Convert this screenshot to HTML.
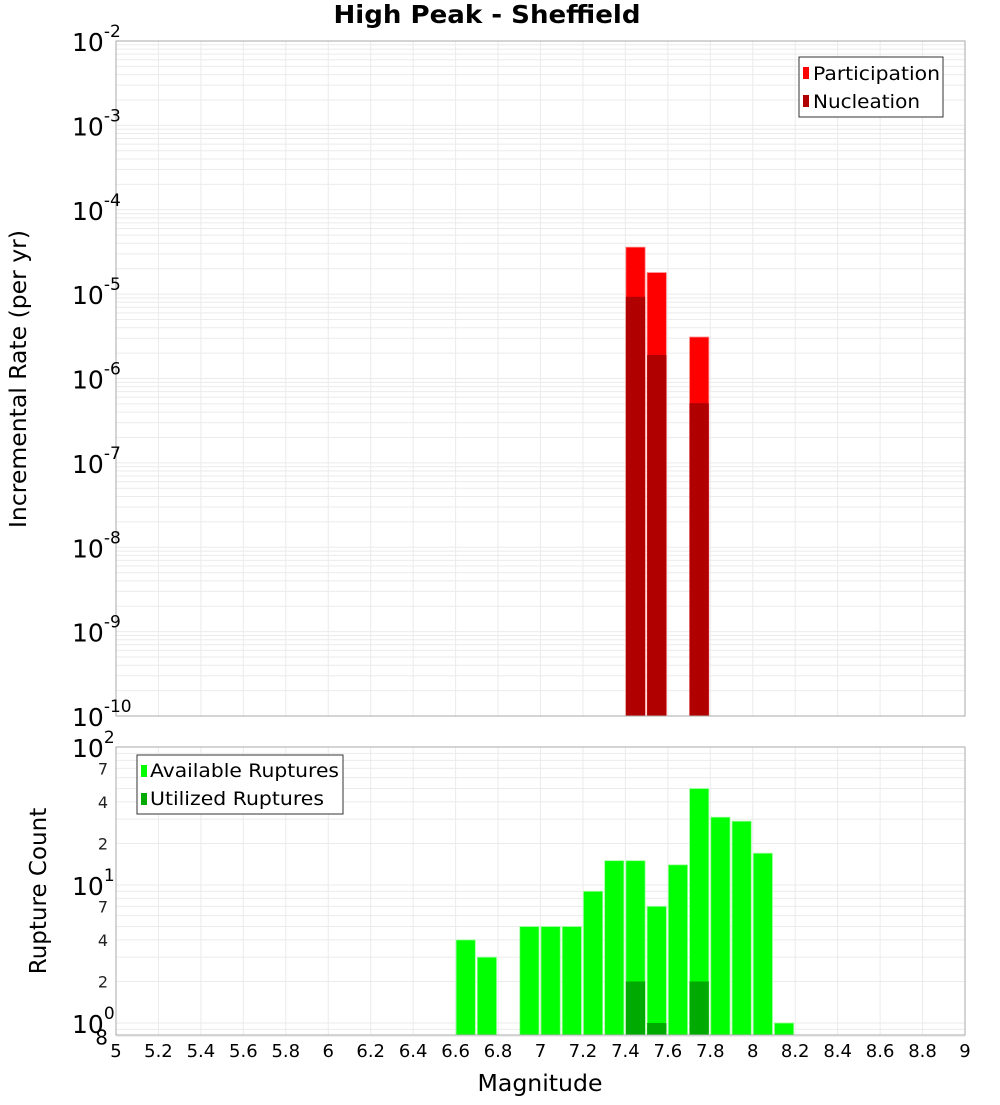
<!DOCTYPE html>
<html><head><meta charset="utf-8"><style>
body{margin:0;background:#fff;font-family:"Liberation Sans","DejaVu Sans",sans-serif}
svg text{font-family:"DejaVu Sans","Liberation Sans",sans-serif}
</style></head><body>
<svg id="chart" width="1000" height="1100" xmlns="http://www.w3.org/2000/svg">
<text x="487" y="23" text-anchor="middle" font-size="25" font-weight="bold" textLength="307" lengthAdjust="spacingAndGlyphs">High Peak - Sheffield</text>
<text transform="translate(26,379) rotate(-90)" text-anchor="middle" font-size="23" textLength="298" lengthAdjust="spacingAndGlyphs">Incremental Rate (per yr)</text>
<text transform="translate(46,891) rotate(-90)" text-anchor="middle" font-size="23">Rupture Count</text>
<text x="540" y="1091" text-anchor="middle" font-size="23" textLength="125" lengthAdjust="spacingAndGlyphs">Magnitude</text>
<g id="topPlot"></g>
<g id="botPlot"></g>
<g>
<rect x="799" y="57" width="144" height="60" fill="#fff" stroke="#333"/>
<rect x="803" y="67" width="6" height="12" fill="#ff0000"/>
<text x="813" y="80" font-size="19" textLength="127" lengthAdjust="spacingAndGlyphs">Participation</text>
<rect x="803" y="95" width="6" height="12" fill="#b00000"/>
<text x="813" y="108" font-size="19" textLength="107" lengthAdjust="spacingAndGlyphs">Nucleation</text>
</g>
<g>
<rect x="137" y="755" width="206" height="59" fill="#fff" stroke="#333"/>
<rect x="141" y="765" width="6" height="12" fill="#00ff00"/>
<text x="150" y="777" font-size="19" textLength="189" lengthAdjust="spacingAndGlyphs">Available Ruptures</text>
<rect x="141" y="793" width="6" height="12" fill="#00aa00"/>
<text x="150" y="805" font-size="19" textLength="174" lengthAdjust="spacingAndGlyphs">Utilized Ruptures</text>
</g>
</svg>
<script>
const magBins=[6.6,6.7,6.9,7.0,7.1,7.2,7.3,7.4,7.5,7.6,7.7,7.8,7.9,8.0,8.1];
const availableCounts=[4,3,5,5,5,9,15,15,7,14,50,31,29,17,1];
const utilizedBins=[7.4,7.5,7.7];
const utilizedCounts=[2,1,2];
const rateBins=[7.4,7.5,7.7];
const participationRates=[3.6e-5,1.8e-5,3.1e-6];
const nucleationRates=[9.3e-6,1.9e-6,5.1e-7];
const xTicks=[5,5.2,5.4,5.6,5.8,6,6.2,6.4,6.6,6.8,7,7.2,7.4,7.6,7.8,8,8.2,8.4,8.6,8.8,9];
const topExps=[-2,-3,-4,-5,-6,-7,-8,-9,-10];
const botExps=[2,1,0];
const botMinorLabels=[7,4,2];

const NS="http://www.w3.org/2000/svg";
const X0=116,X1=965;
const xs=m=>X0+(m-5)/4*(X1-X0);
const yTop=v=>41+84.375*(-2-Math.log10(v));
const yBot=v=>1023-138*Math.log10(v);
function mk(p,t,a){const e=document.createElementNS(NS,t);for(const k in a)e.setAttribute(k,a[k]);p.appendChild(e);return e;}
const gTop=document.getElementById('topPlot'),gBot=document.getElementById('botPlot');

for(let d=-10;d<-2;d++)for(let k=1;k<10;k++){const y=yTop(k*Math.pow(10,d));
 const l=mk(gTop,'line',{x1:X0,x2:X1,y1:y,y2:y,stroke:'#ebebeb','stroke-width':1});
 
 }
for(const t of xTicks){const l=mk(gTop,'line',{x1:xs(t),x2:xs(t),y1:41,y2:716,stroke:'#ebebeb'});
 
 }
for(let d=-1;d<2;d++)for(let k=1;k<10;k++){const v=k*Math.pow(10,d);if(v<0.8)continue;const y=yBot(v);
 const l=mk(gBot,'line',{x1:X0,x2:X1,y1:y,y2:y,stroke:'#ebebeb'});
 
 }
for(const t of xTicks){const l=mk(gBot,'line',{x1:xs(t),x2:xs(t),y1:747,y2:1035,stroke:'#ebebeb'});
 
 }

rateBins.forEach((m,i)=>{
 const xa=xs(m)+0.5,w=xs(m+0.1)-xs(m)-2;
 const p=mk(gTop,'rect',{x:xa,y:yTop(participationRates[i]),width:w,height:716-yTop(participationRates[i]),fill:'#ff0000',stroke:'#ff8080','stroke-width':0.8});
 
 
 const n=mk(gTop,'rect',{x:xa,y:yTop(nucleationRates[i]),width:w,height:716-yTop(nucleationRates[i]),fill:'#b00000'});
 
 
});
magBins.forEach((m,i)=>{
 const r=mk(gBot,'rect',{x:xs(m)+0.5,y:yBot(availableCounts[i]),width:xs(m+0.1)-xs(m)-2,height:1035-yBot(availableCounts[i]),fill:'#00ff00',stroke:'#99ff99','stroke-width':0.8});
 
 
});
utilizedBins.forEach((m,i)=>{
 const r=mk(gBot,'rect',{x:xs(m)+0.5,y:yBot(utilizedCounts[i]),width:xs(m+0.1)-xs(m)-2,height:1035-yBot(utilizedCounts[i]),fill:'#00aa00'});
 
 
});
mk(gTop,'rect',{x:X0,y:41,width:X1-X0,height:675,fill:'none',stroke:'#aaa'});
mk(gBot,'rect',{x:X0,y:747,width:X1-X0,height:288,fill:'none',stroke:'#aaa'});

topExps.forEach(e=>{const y=yTop(Math.pow(10,e));
 const t=mk(gTop,'text',{x:72,y:y+10,'font-size':25});
 
 
 t.textContent='10';
 const s=mk(t,'tspan',{dy:-14,'font-size':17});s.textContent=String(e);
});
botExps.forEach(e=>{const y=yBot(Math.pow(10,e));
 const t=mk(gBot,'text',{x:72,y:y+10,'font-size':25});
 
 
 t.textContent='10';
 const s=mk(t,'tspan',{dy:-14,'font-size':17});s.textContent=String(e);
});
[1,0].forEach(d=>botMinorLabels.forEach(k=>{const y=yBot(k*Math.pow(10,d));
 const t=mk(gBot,'text',{x:108,y:y+6,'font-size':16,'text-anchor':'end',fill:'#222'});
 
 
 t.textContent=String(k);}));
{const t=mk(gBot,'text',{x:108,y:yBot(0.8)+8,'font-size':20,'text-anchor':'end'});
 
 
 t.textContent='8';}
xTicks.forEach(v=>{const t=mk(gBot,'text',{x:xs(v),y:1057,'font-size':18,'text-anchor':'middle'});
 
 
 t.textContent=String(v);});
</script>
</body></html>
